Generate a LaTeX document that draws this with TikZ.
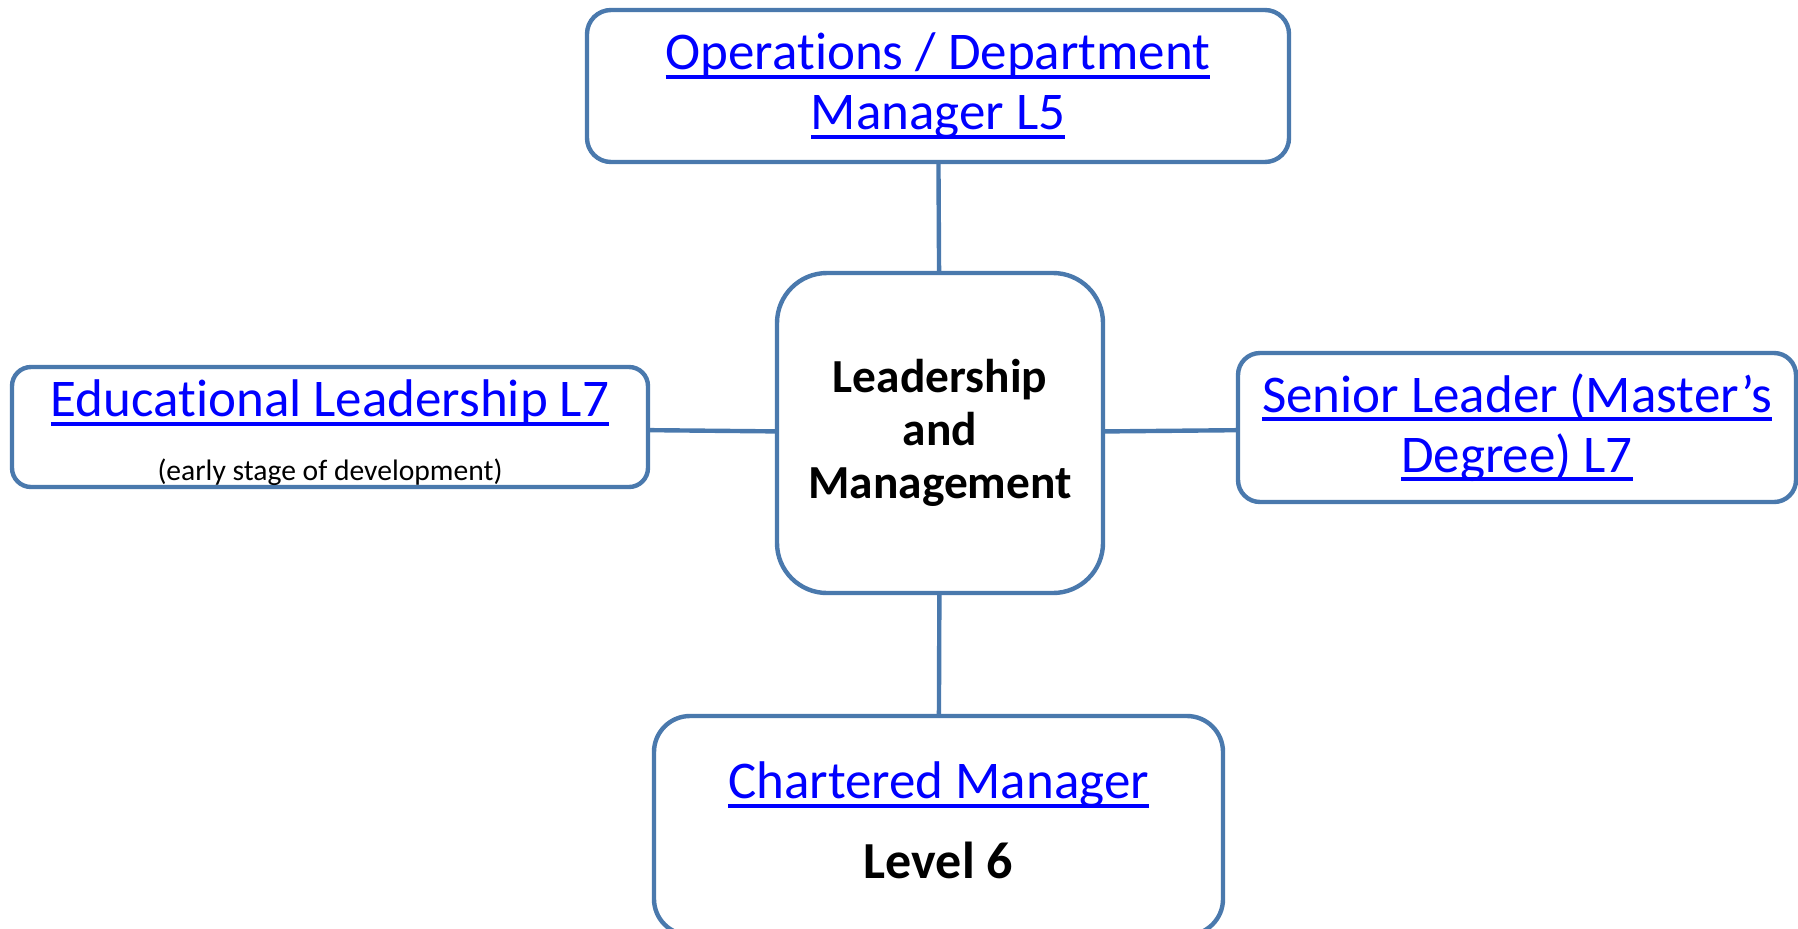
\documentclass[tikz,border=0pt]{standalone}
\usepackage{fontspec}
\setmainfont{Carlito}[Ligatures=NoCommon]
\usetikzlibrary{positioning}

\definecolor{boxline}{HTML}{4A79AD}
\definecolor{linkblue}{HTML}{0000FF}
% link text: blue, with a rule under it
\newcommand{\lnk}[1]{\textcolor{linkblue}{\setbox0\hbox{#1}\rlap{\rule[-4.4pt]{\wd0}{1.9pt}}\box0}}

\begin{document}
\begin{tikzpicture}[x=0.5pt,y=-0.5pt,
    box/.style={draw=boxline,line width=\Wire,fill=white,inner sep=0pt,rounded corners=#1},
    box/.default=10pt,
    wire/.style={draw=boxline,line width=\Wire},
    linktext/.style={align=center,font=\fontsize{26.5}{30}\selectfont},
    hubtext/.style={align=center,font=\fontsize{23.7}{26.5}\selectfont\bfseries}]
\newdimen\Wire
\Wire=2.2pt
    % fix the page to the size of the reference
    \clip (0,0) rectangle (1798,928);
    % the hub and the four boxes round it
    \node[box=25pt,minimum width=163pt,minimum height=160pt] (hub) at (940,433) {};
    \node[box=12pt,minimum width=351pt,minimum height=76pt] (ops) at (938,86) {};
    \node[box=9.5pt,minimum width=318pt,minimum height=60pt] (edu) at (330,427) {};
    \node[box=11pt,minimum width=279pt,minimum height=74.5pt] (snr) at (1517,427.5) {};
    \node[box=18pt,minimum width=284.5pt,minimum height=109.5pt] (cmi) at (938.5,825.5) {};
    % connectors
    \draw[wire] (ops) -- (hub);
    \draw[wire] (edu) -- (hub);
    \draw[wire] (hub) -- (snr);
    \draw[wire] (hub) -- (cmi);
    % texts
    \node[hubtext] (hubT) at (hub.center) {Leadership\\and\\Management};
    \node[linktext] (opsT) at (ops.center) {\lnk{Operations / Department}\\\lnk{Manager L5}};
    \node[linktext] (eduT) at ([yshift=-3pt]edu.center)
        {\lnk{Educational Leadership L7}\\[2pt]{\fontsize{14.8}{17}\selectfont(early stage of development)}};
    \node[linktext] (snrT) at (snr.center) {\lnk{Senior Leader (Master’s}\\\lnk{Degree) L7}};
    \node[linktext] (cmiT) at ([yshift=2.5pt]cmi.center)
        {\lnk{Chartered Manager}\\[10pt]{\fontsize{26}{29}\selectfont\bfseries Level 6}};
\end{tikzpicture}
\end{document}
